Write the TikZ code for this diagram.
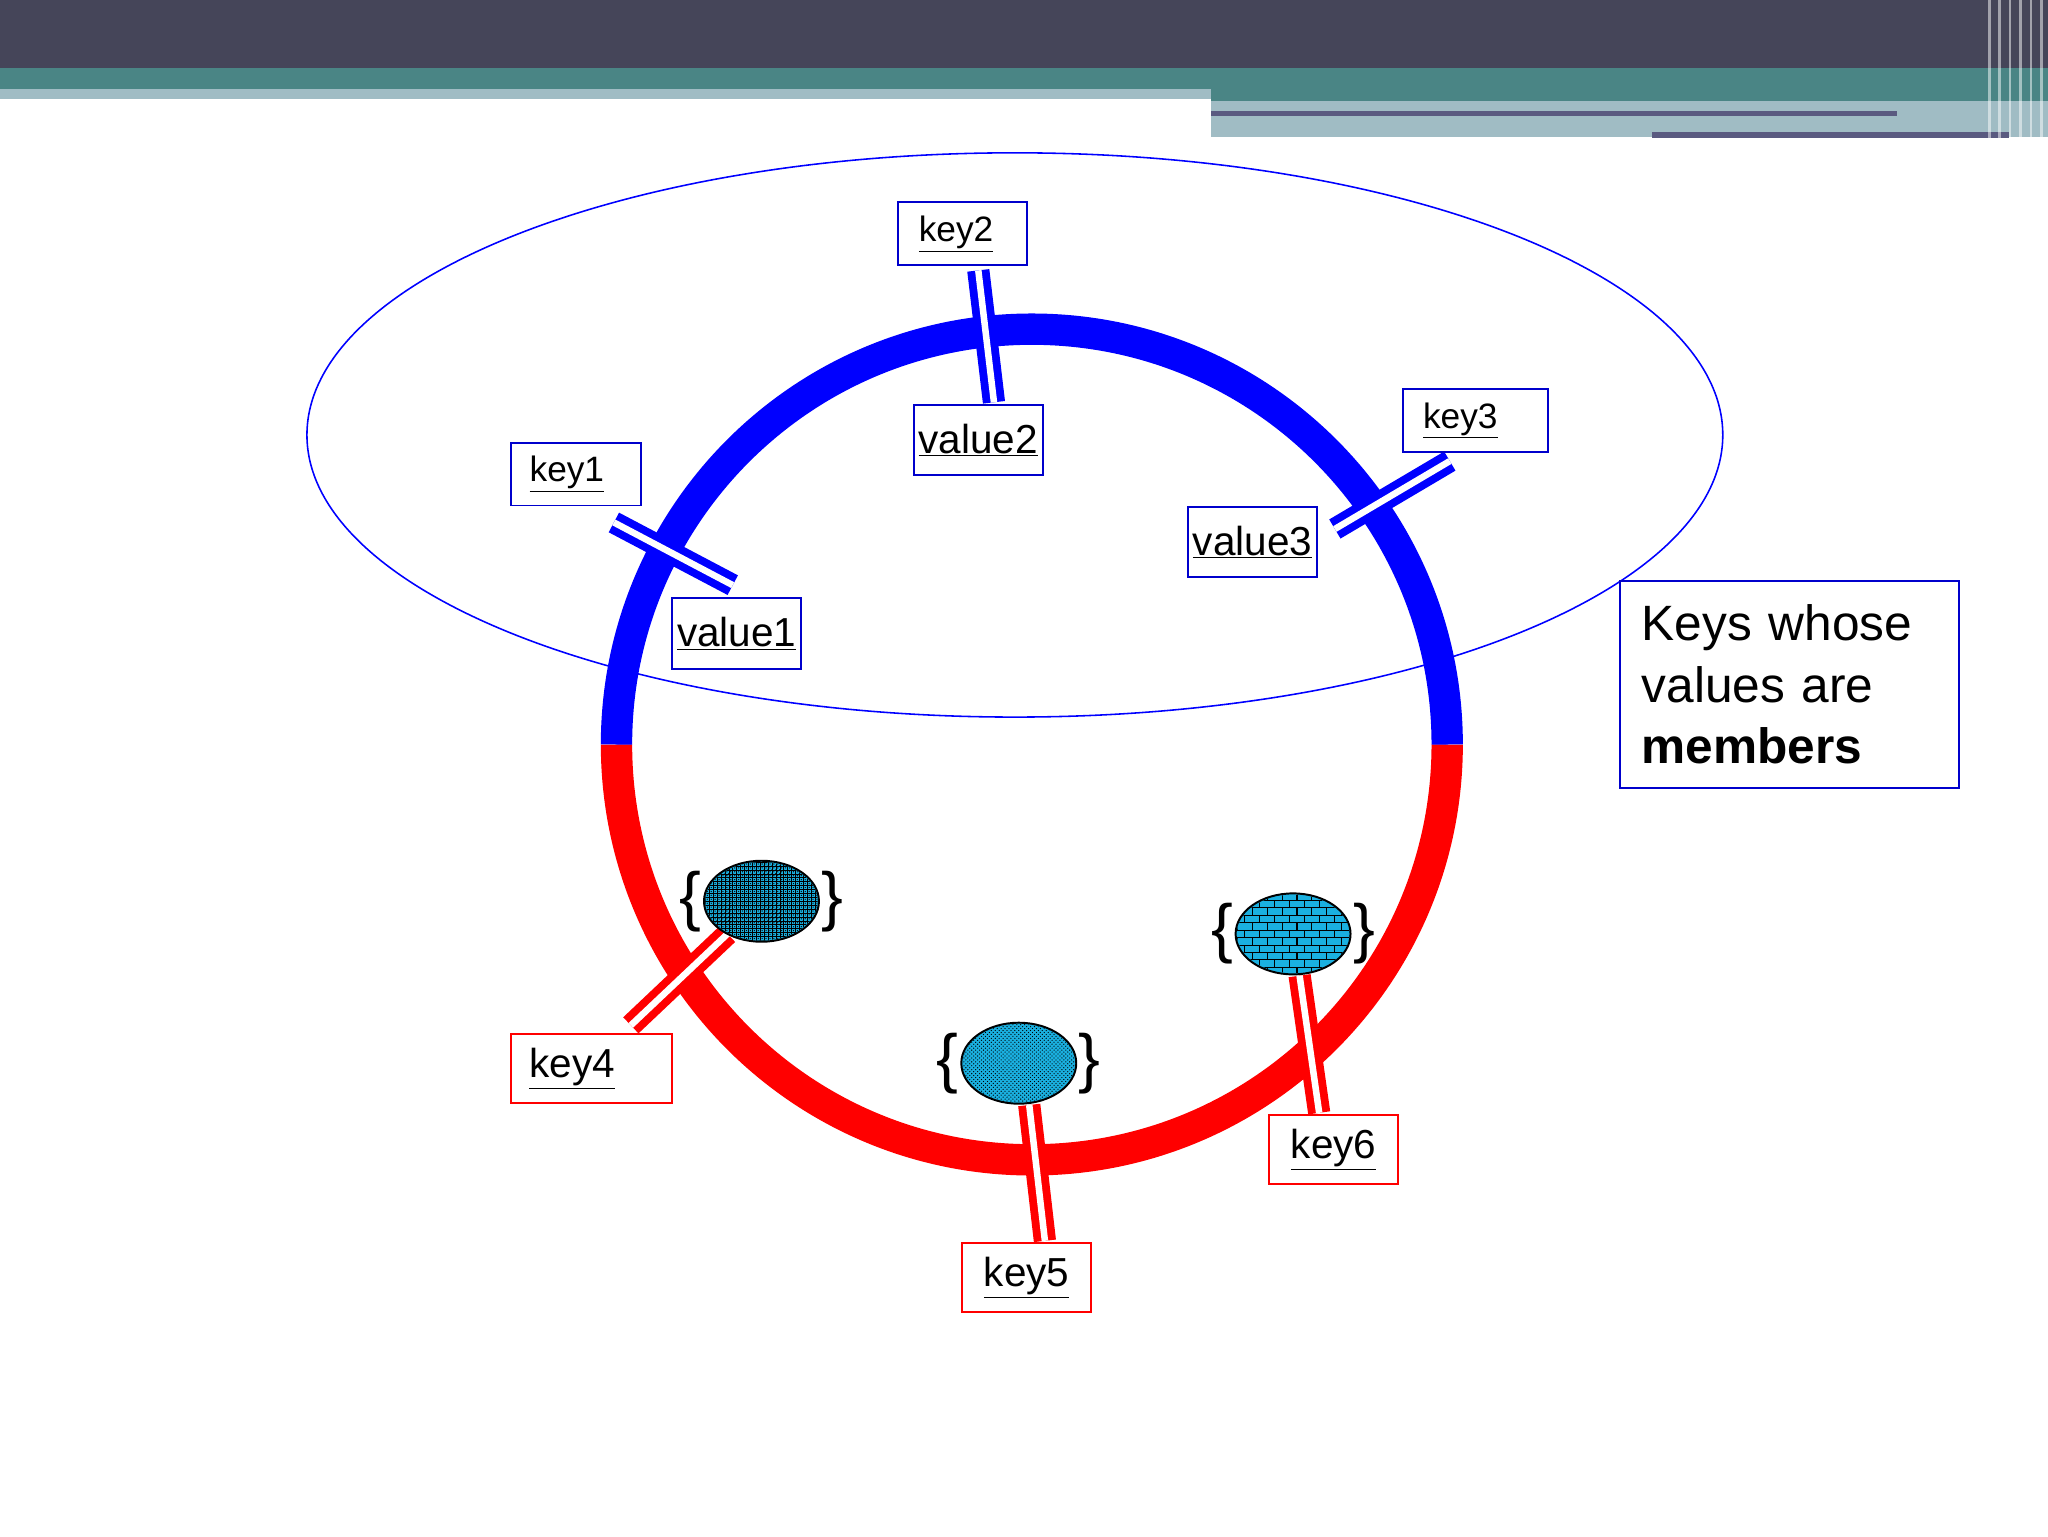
\documentclass[tikz,border=0pt]{standalone}
\usepackage{fontspec}
\setmainfont{Liberation Sans}
\usetikzlibrary{patterns,shapes.geometric}
\definecolor{bannerdark}{HTML}{454559}
\definecolor{bannerteal}{HTML}{4A8585}
\definecolor{bannerlight}{HTML}{A0BCC4}
\definecolor{bannerline}{HTML}{5A5A80}
\definecolor{blobcyan}{HTML}{1AB0E0}
\newcommand{\ul}[1]{\underline{#1}}
\tikzset{
  bkey/.style={draw=blue!80!black, line width=1.5pt, fill=white, inner sep=0pt, minimum width=99pt, minimum height=48pt, font=\fontsize{27}{30}\selectfont},
  bval/.style={bkey, minimum height=54pt, font=\fontsize{31}{36}\selectfont},
  rkey/.style={draw=red, line width=1.5pt, fill=white, inner sep=0pt, minimum width=99pt, minimum height=53pt, font=\fontsize{31}{36}\selectfont},
  bdbl/.style={draw=blue, line width=6pt, double=white, double distance=5pt},
  rdbl/.style={draw=red, line width=6pt, double=white, double distance=5pt},
  blob/.style={draw=black, line width=1.5pt, ellipse, fill=blobcyan, minimum width=88pt, minimum height=62pt},
  brace/.style={font=\fontsize{50}{54}\selectfont, inner sep=1pt},
}
\begin{document}
\begin{tikzpicture}[x=1pt,y=-1pt]
\useasboundingbox (0,0) rectangle (1568,1176);
\fill[white] (0,0) rectangle (1568,1176);
% banner
\fill[bannerdark] (0,0) rectangle (1568,52);
\fill[bannerteal] (0,52) rectangle (1568,68);
\fill[bannerlight] (0,68) rectangle (927,76);
\fill[bannerteal] (927,68) rectangle (1568,77);
\fill[bannerlight] (927,77) rectangle (1568,105);
\fill[bannerline] (927,85) rectangle (1452,89);
\fill[bannerline] (1265,101) rectangle (1538,106);
\foreach \x in {1522,1530,1538,1546,1554,1562}{\fill[white,opacity=0.5] (\x,0) rectangle (\x+2,106);}
% ellipse
\draw[blue, line width=1.2pt] (777,333) ellipse [x radius=542, y radius=216];
% ring
\draw[red, line width=24pt] (472,570) arc[start angle=180, end angle=0, radius=318];
\draw[blue, line width=24pt] (472,570) arc[start angle=180, end angle=360, radius=318];
% connectors coordinates
\coordinate (k2a) at (749,207); \coordinate (k2b) at (761,308);
\coordinate (k1a) at (470,400); \coordinate (k1b) at (561,448);
\coordinate (k3a) at (1110,353); \coordinate (k3b) at (1022,405);
\coordinate (k4a) at (557,715); \coordinate (k4b) at (483,785);
\coordinate (k5a) at (788,846); \coordinate (k5b) at (800,950);
\coordinate (k6a) at (995,747); \coordinate (k6b) at (1010,852);
\draw[bdbl] (k2a) -- (k2b);
\draw[bdbl] (k1a) -- (k1b);
\draw[bdbl] (k3a) -- (k3b);
\draw[rdbl] (k4a) -- (k4b);
\draw[rdbl] (k5a) -- (k5b);
\draw[rdbl] (k6a) -- (k6b);
% blue boxes
\node[bkey] (key2) at (737,179) {\hspace*{-10pt}\ul{key2}};
\node[bval] (value2) at (749,337) {\ul{value2}};
\node[bkey] (key1) at (441,363) {\hspace*{-14pt}\ul{key1}};
\node[bval] (value1) at (564,485) {\ul{value1}};
\node[bkey, minimum width=111pt] (key3) at (1130,322) {\hspace*{-24pt}\ul{key3}};
\node[bval] (value3) at (959,415) {\ul{value3}};
% red boxes
\node[rkey, minimum width=123pt] (key4) at (453,818) {\hspace*{-30pt}\ul{key4}};
\node[rkey] (key5) at (786,978) {\ul{key5}};
\node[rkey] (key6) at (1021,880) {\ul{key6}};
% blobs
\node[blob] (b1) at (583,690) {};
\fill[pattern=grid, pattern color=black] (583,690) ellipse [x radius=43, y radius=30];
\fill[pattern=crosshatch dots, pattern color=black] (583,690) ellipse [x radius=43, y radius=30];
\node[brace, anchor=east] at (b1.west) {\{};
\node[brace, anchor=west] at (b1.east) {\}};
\node[blob] (b2) at (780,814) {};
\fill[pattern=crosshatch dots, pattern color=black] (780,814) ellipse [x radius=43, y radius=30];
\node[brace, anchor=east] at (b2.west) {\{};
\node[brace, anchor=west] at (b2.east) {\}};
\node[blob] (b3) at (990,715) {};
\fill[pattern=bricks, pattern color=black] (990,715) ellipse [x radius=43, y radius=30];
\node[brace, anchor=east] at (b3.west) {\{};
\node[brace, anchor=west] at (b3.east) {\}};
% legend
\node[draw=blue!80!black, line width=1.5pt, fill=white, minimum width=259pt, minimum height=158pt, align=left, text width=226pt, font=\fontsize{38}{47}\selectfont] (legend) at (1370,524) {Keys whose\\values are\\\textbf{members}};
\end{tikzpicture}
\end{document}
